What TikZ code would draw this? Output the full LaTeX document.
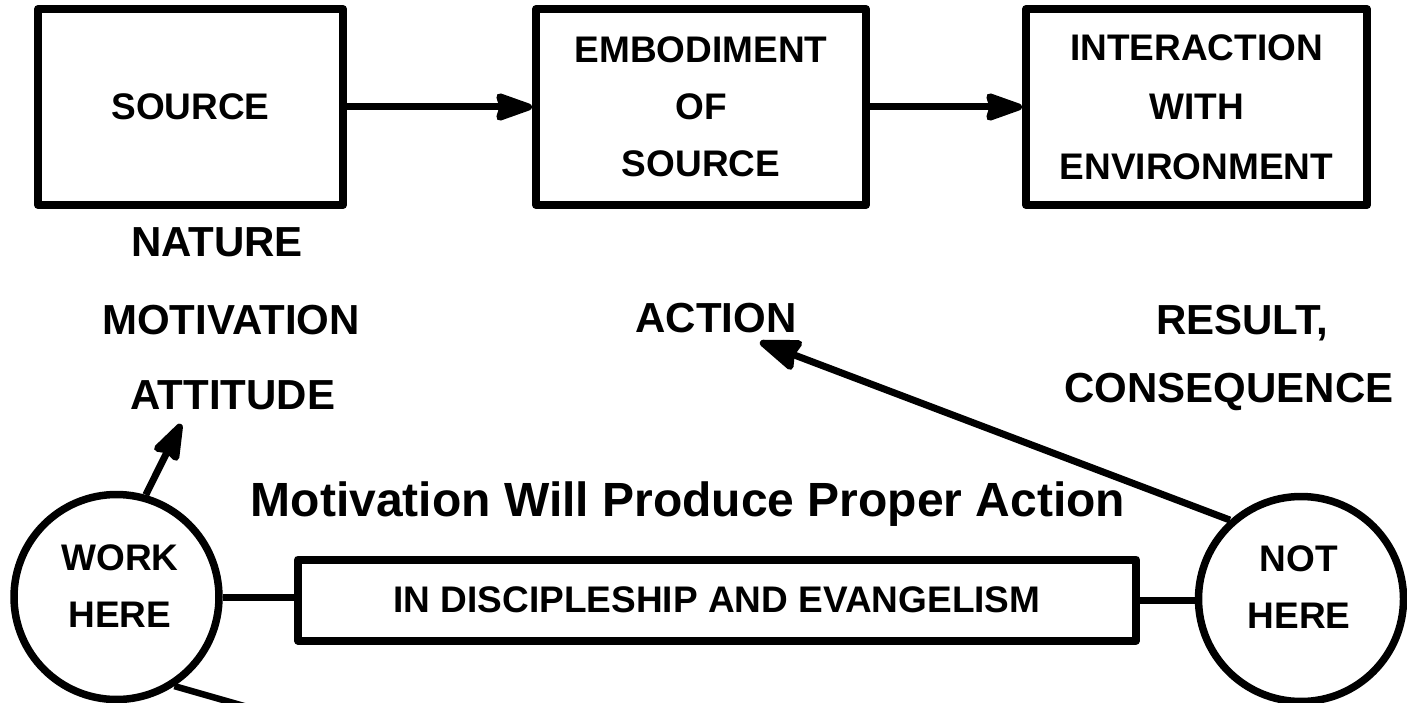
\documentclass[tikz,border=0pt]{standalone}
\usepackage{fontspec}
\setmainfont{Liberation Sans}
\usetikzlibrary{arrows.meta}
\begin{document}
\begin{tikzpicture}[x=1pt,y=-1pt,line join=round,
  box/.style={draw,line width=8pt,inner sep=0pt,align=center,font=\fontsize{37}{57}\selectfont\bfseries},
  circ/.style={draw,circle,line width=7.5pt,inner sep=0pt,minimum size=205pt},
  txt/.style={inner sep=0pt,align=center,font=\fontsize{37}{57}\selectfont\bfseries},
  lbl/.style={anchor=base,inner sep=0pt,font=\fontsize{42}{50}\selectfont\bfseries},
  conn/.style={line width=7pt},
  arr/.style={line width=7pt,-{Stealth[length=44pt,width=30pt,inset=4pt,round]}},
  bigarr/.style={line width=7pt,-{Stealth[length=48pt,width=34pt,inset=4pt,round]}}]
\useasboundingbox (0,0) rectangle (1407,703);
\clip (0,0) rectangle (1407,703);
% top boxes
\node[box,minimum width=305pt,minimum height=196pt] (src) at (190.5,107) {SOURCE};
\node[box,minimum width=330pt,minimum height=196pt] (emb) at (701,107) {EMBODIMENT\\OF\\SOURCE};
\node[box,minimum width=341pt,minimum height=196pt,font=\fontsize{37}{59.5}\selectfont\bfseries] (inter) at (1196.5,107) {INTERACTION\\WITH\\ENVIRONMENT};
\draw[arr] (src.east) -- (emb.west);
\draw[arr] (emb.east) -- (inter.west);
% labels
\node[lbl] (nature) at (217,257) {NATURE};
\node[lbl] (motiv) at (231,334) {MOTIVATION};
\node[lbl] (attit) at (233,409) {ATTITUDE};
\node[lbl] (action) at (716,332) {ACTION};
\node[lbl] (result) at (1242,334) {RESULT,};
\node[lbl] (conseq) at (1229,402) {CONSEQUENCE};
\node[lbl,font=\fontsize{48}{56}\selectfont\bfseries] (motline) at (688,516) {Motivation Will Produce Proper Action};
% bottom row
\node[box,minimum width=838pt,minimum height=81pt] (disc) at (717,600) {IN DISCIPLESHIP AND EVANGELISM};
\node[circ] (work) at (116.5,597) {};
\node[circ] (noth) at (1301,599) {};
\node[txt] (worktxt) at (120,586.5) {WORK\\HERE};
\node[txt] (nottxt) at (1299,587.5) {NOT\\HERE};
\draw[conn] (work.east) -- (work.east -| disc.west);
\draw[conn] (disc.east) -- (disc.east -| noth.west);
\coordinate (acttip) at (760,342);
\coordinate (atttip) at (181,424);
\coordinate (offpage) at (300,722);
\draw[bigarr] (noth.132) -- (acttip);
\draw[arr] (work.74) -- (atttip);
\draw[conn,line width=6.5pt] (work.-57) -- (offpage);
\end{tikzpicture}
\end{document}
